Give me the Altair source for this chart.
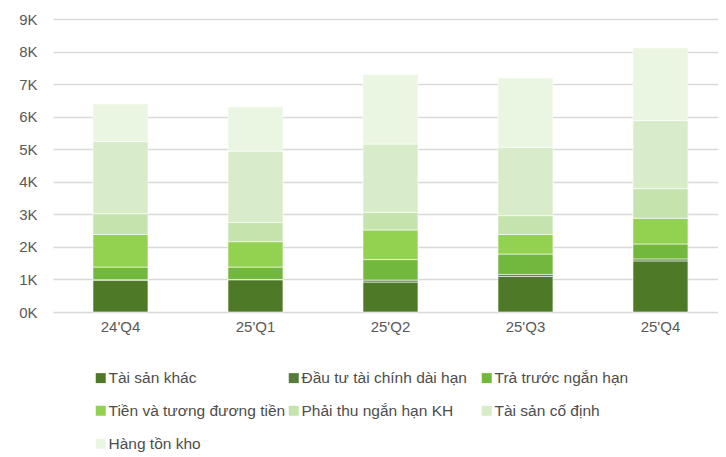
import altair as alt
import pandas as pd

quarters = ["24'Q4", "25'Q1", "25'Q2", "25'Q3", "25'Q4"]
series = [
    "Tài sản khác",
    "Đầu tư tài chính dài hạn",
    "Trả trước ngắn hạn",
    "Tiền và tương đương tiền",
    "Phải thu ngắn hạn KH",
    "Tài sản cố định",
    "Hàng tồn kho",
]
tai_san_khac = [980, 990, 920, 1090, 1570]
dau_tu_tc = [10, 10, 60, 60, 60]
tra_truoc = [390, 380, 630, 630, 460]
tien = [1000, 780, 910, 600, 790]
phai_thu = [640, 590, 540, 580, 910]
tai_san_cd = [2220, 2190, 2100, 2100, 2090]
hang_ton_kho = [1150, 1360, 2130, 2130, 2230]
colors = ["#4e7a28", "#557d3a", "#72b83c", "#93d150", "#c5e4ad", "#d9ecc9", "#eaf5e2"]
y_ticks = [0, 1000, 2000, 3000, 4000, 5000, 6000, 7000, 8000, 9000]

values = [tai_san_khac, dau_tu_tc, tra_truoc, tien, phai_thu, tai_san_cd, hang_ton_kho]
rows = []
for si, (name, vals) in enumerate(zip(series, values)):
    for q, v in zip(quarters, vals):
        rows.append({"quarter": q, "series": name, "value": v, "idx": si})
df = pd.DataFrame(rows)

font = "Liberation Sans, Arial, sans-serif"

chart = alt.Chart(df).mark_bar(stroke="white", strokeWidth=0.6).encode(
    x=alt.X("quarter:N", sort=quarters, title=None,
            scale=alt.Scale(paddingInner=0.5926, paddingOuter=0.2593, align=0.571),
            axis=alt.Axis(labelAngle=0, ticks=False, domain=False, grid=False,
                          labelPadding=7, labelFontSize=15, labelFont=font,
                          labelColor="#595959")),
    y=alt.Y("value:Q", stack="zero", title=None,
            scale=alt.Scale(domain=[0, 9000], nice=False),
            axis=alt.Axis(values=y_ticks, labelExpr="datum.value / 1000 + 'K'",
                          ticks=False, domain=False, labelPadding=16,
                          labelFontSize=15, labelFont=font, labelColor="#595959",
                          gridColor="#d9d9d9", gridWidth=1.3)),
    color=alt.Color("series:N", title=None,
                    scale=alt.Scale(domain=series, range=colors),
                    legend=alt.Legend(orient="none", legendX=40, legendY=351,
                                      direction="horizontal",
                                      columns=3, gridAlign="all", symbolType="square",
                                      symbolSize=100, symbolStrokeWidth=0,
                                      labelFontSize=15.5, labelFont=font,
                                      labelColor="#4d4d4d", labelOffset=0,
                                      columnPadding=0, rowPadding=16,
                                      labelLimit=400, padding=0)),
    order=alt.Order("idx:Q", sort="ascending"),
).properties(
    width=665, height=293,
    autosize=alt.AutoSizeParams(type="none"),
    padding={"left": 45, "top": 11, "right": 0, "bottom": 142},
).configure_view(stroke=None)

chart.save("out.html", embed_options={"renderer": "svg", "actions": False})
